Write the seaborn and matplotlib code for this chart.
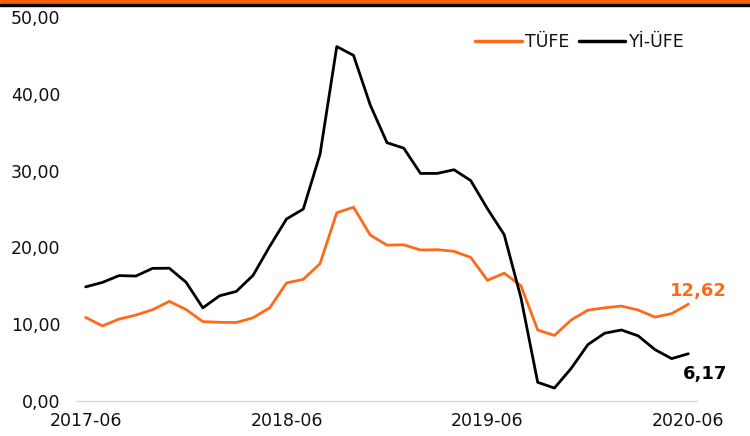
import pandas as pd
import matplotlib.pyplot as plt
import seaborn as sns
from matplotlib.patches import Rectangle

# Monthly annual inflation, 2017-06 .. 2020-06
months = pd.period_range('2017-06', '2020-06', freq='M').strftime('%Y-%m').tolist()
tufe = [10.90, 9.79, 10.68, 11.20, 11.90, 12.98, 11.92,
        10.35, 10.26, 10.23, 10.85, 12.15, 15.39, 15.85, 17.90, 24.52, 25.24, 21.62, 20.30,
        20.35, 19.67, 19.71, 19.50, 18.71, 15.72, 16.65, 15.01, 9.26, 8.55, 10.56, 11.84,
        12.15, 12.37, 11.86, 10.94, 11.39, 12.62]
yiufe = [14.87, 15.45, 16.34, 16.28, 17.28, 17.30, 15.47,
         12.14, 13.71, 14.28, 16.37, 20.16, 23.71, 25.00, 32.13, 46.15, 45.01, 38.54, 33.64,
         32.93, 29.64, 29.64, 30.12, 28.71, 25.04, 21.66, 13.45, 2.45, 1.70, 4.26, 7.36,
         8.84, 9.26, 8.50, 6.71, 5.53, 6.17]
series_names = ['TÜFE', 'Yİ-ÜFE']
tick_idx = [0, 12, 24, 36]
y_ticks = [0, 10, 20, 30, 40, 50]

orange = '#FF6A1A'
df = pd.DataFrame({'i': list(range(len(months))) * 2,
                   'val': tufe + yiufe,
                   'seri': [series_names[0]] * len(tufe) + [series_names[1]] * len(yiufe)})

sns.set_style('white')
plt.rcParams['font.family'] = ['DejaVu Sans']
plt.rcParams['text.color'] = '#111111'

fig = plt.figure(figsize=(7.5, 4.36), dpi=100)
ax = fig.add_axes([0.103, 0.080, 0.826, 0.881])
sns.lineplot(data=df, x='i', y='val', hue='seri', palette={series_names[0]: orange, series_names[1]: 'black'},
             linewidth=2.0, ax=ax)

ax.set_xlim(-0.5, 36.5)
ax.set_ylim(0, 50)
ax.set_xticks(tick_idx)
ax.set_xticklabels([months[i] for i in tick_idx], fontsize=12.5)
ax.set_yticks(y_ticks)
ax.set_yticklabels([f'{v:.2f}'.replace('.', ',') for v in y_ticks], fontsize=12.5)
ax.tick_params(axis='x', length=0, pad=8, labelcolor='#111111')
ax.tick_params(axis='y', length=0, pad=12, labelcolor='#111111')
ax.set_xlabel('')
ax.set_ylabel('')
for s in ['top', 'right', 'left']:
    ax.spines[s].set_visible(False)
ax.spines['bottom'].set_color('#d9d9d9')
ax.spines['bottom'].set_linewidth(1)
ax.spines['bottom'].set_zorder(0)

leg = ax.legend(loc='upper right', bbox_to_anchor=(1.0, 0.99), ncol=2, frameon=False,
                fontsize=12.5, handlelength=2.7, handletextpad=0.2, columnspacing=0.5,
                borderpad=0.2)
for h in leg.get_lines():
    h.set_linewidth(2.5)

# end labels
ax.text(38.3, tufe[-1] + 0.6, f'{tufe[-1]:.2f}'.replace('.', ','), color=orange,
        fontsize=13, fontweight='bold', ha='right', va='bottom')
ax.text(38.3, yiufe[-1] - 1.5, f'{yiufe[-1]:.2f}'.replace('.', ','), color='black',
        fontsize=13, fontweight='bold', ha='right', va='top')

# header band at top
fig.patches.append(Rectangle((0, 1 - 4 / 436), 1, 4 / 436, transform=fig.transFigure,
                             color='#FF5F00', zorder=0))
fig.patches.append(Rectangle((0, 1 - 6 / 436), 1, 2 / 436, transform=fig.transFigure,
                             color='black', zorder=0))

fig.savefig('out.png', dpi=100)
